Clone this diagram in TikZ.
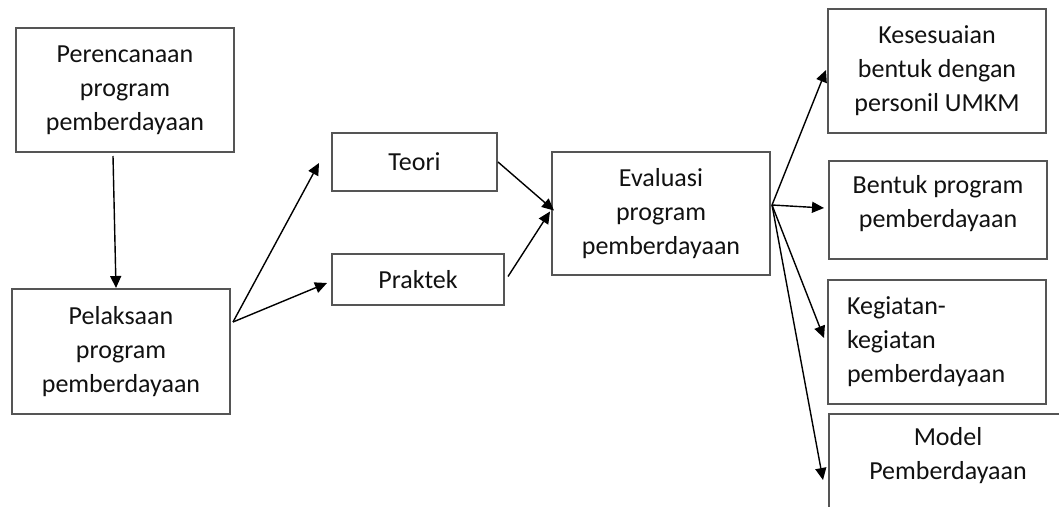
\documentclass[tikz,border=0pt]{standalone}
\usepackage{fontspec}
\setmainfont{Carlito}
\usetikzlibrary{arrows.meta,calc}
\definecolor{boxgray}{HTML}{555555}
\definecolor{txt}{HTML}{111111}
\begin{document}
\begin{tikzpicture}[x=1pt,y=-1pt,
  box/.style={draw=boxgray, line width=2pt, inner sep=0pt, align=center,
    font=\fontsize{26}{34}\selectfont, text=txt},
  lbl/.style={inner sep=0pt, align=center, font=\fontsize{26}{34}\selectfont, text=txt},
  arr/.style={-{Triangle[length=12pt,width=11pt]}, line width=1.4pt, draw=black}]
\useasboundingbox (0,0) rectangle (1059,506);
\clip (0,0) rectangle (1059,506);

\node[box, minimum width=218pt, minimum height=124pt] (per) at (125,90) {Perencanaan\\program\\pemberdayaan};
\node[box, minimum width=218pt, minimum height=125pt] (pel) at (121,351.5) {Pelaksaan\\program\\pemberdayaan};
\node[box, minimum width=165pt, minimum height=58pt] (teori) at (414.5,162) {Teori};
\node[box, minimum width=172pt, minimum height=51pt] (prak) at (418,279.5) {Praktek};
\node[box, minimum width=218pt, minimum height=123pt] (eval) at (661,213.5) {Evaluasi\\program\\pemberdayaan};
\node[box, minimum width=218pt, minimum height=124pt] (kes) at (937,71) {Kesesuaian\\bentuk dengan\\personil UMKM};
\node[box, minimum width=218pt, minimum height=98pt, text depth=17pt] (bentuk) at (938,210) {Bentuk program\\pemberdayaan};
\node[box, minimum width=218pt, minimum height=124pt, text width=180pt, align=left] (keg) at (937,342) {Kegiatan-\\kegiatan\\pemberdayaan};
\node[box, minimum width=240pt, minimum height=130pt, anchor=north west] (model) at (828,413) {};
\node[lbl] (modeltxt) at (948,455.5) {Model\\Pemberdayaan};

\coordinate (p0) at ($(pel.east)+(2,-29.5)$);
\coordinate (fan) at ($(eval.east)+(1,-8.5)$);

\draw[arr] ($(per.south)+(-12,3)$) -- ($(pel.north)+(-5,0)$);
\draw[arr] (p0) -- ($(teori.west)+(-12,1)$);
\draw[arr] (p0) -- ($(prak.west)+(-4,3.5)$);
\draw[arr] (teori.east) -- ($(eval.west)+(3,-3)$);
\draw[arr] ($(prak.east)+(3,-3)$) -- ($(eval.west)+(-1,-2)$);
\draw[arr] (fan) -- ($(kes.west)+(-1,-1)$);
\draw[arr] (fan) -- ($(bentuk.west)+(-4,-2)$);
\draw[arr] (fan) -- ($(keg.west)+(-3,-4)$);
\draw[arr] (fan) -- ($(model.north west)+(-5,67)$);
\end{tikzpicture}
\end{document}
